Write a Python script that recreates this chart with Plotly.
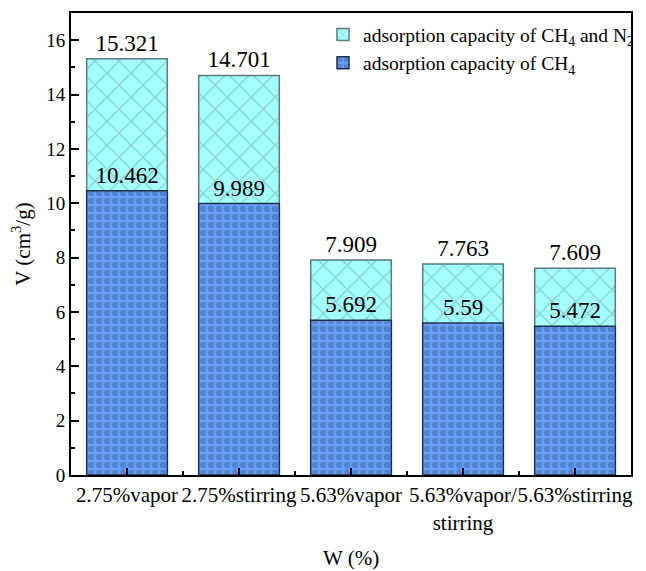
import plotly.graph_objects as go

categories = ["2.75%vapor", "2.75%stirring", "5.63%vapor", "5.63%vapor/<br>stirring", "5.63%stirring"]
total_values = [15.321, 14.701, 7.909, 7.763, 7.609]
ch4_values = [10.462, 9.989, 5.692, 5.59, 5.472]
total_labels = ["15.321", "14.701", "7.909", "7.763", "7.609"]
ch4_labels = ["10.462", "9.989", "5.692", "5.59", "5.472"]

xpos = list(range(len(categories)))
FONT = "Liberation Serif"

fig = go.Figure()
fig.add_trace(go.Bar(
    x=xpos, y=total_values, width=0.72,
    name="adsorption capacity of CH<sub>4</sub> and N<sub>2</sub>",
    marker=dict(color="#A4FFFF", line=dict(color="#5E7A7A", width=1.5),
                pattern=dict(shape="x", fgcolor="#6E9C9C", size=17, solidity=0.14, bgcolor="#A4FFFF")),
    text=total_labels, textposition="outside", cliponaxis=False,
    textfont=dict(family=FONT, size=23, color="black"),
))
fig.add_trace(go.Bar(
    x=xpos, y=ch4_values, width=0.72,
    name="adsorption capacity of CH<sub>4</sub>",
    marker=dict(color="#68A0FA", line=dict(color="#22304F", width=1.5),
                pattern=dict(shape=".", fgcolor="#42669F", size=8, solidity=0.5, bgcolor="#68A0FA")),
    text=ch4_labels, textposition="outside", cliponaxis=False,
    textfont=dict(family=FONT, size=23, color="black"),
))

fig.update_layout(
    width=646, height=571,
    barmode="overlay",
    plot_bgcolor="white", paper_bgcolor="white",
    margin=dict(l=71, r=6, t=13, b=96),
    font=dict(family=FONT, size=18, color="black"),
    showlegend=True,
    legend=dict(x=0.45, y=0.995, xanchor="left", yanchor="top",
                bgcolor="rgba(0,0,0,0)", font=dict(family=FONT, size=19.5),
                traceorder="normal", itemwidth=30, tracegroupgap=0),
    annotations=[dict(text="W (%)", xref="paper", yref="paper", x=0.5, y=-0.18,
                      xanchor="center", yanchor="middle", showarrow=False,
                      font=dict(family=FONT, size=21))],
)
fig.update_xaxes(
    range=[-0.5, 4.5], tickmode="array", tickvals=xpos, ticktext=categories,
    tickangle=0, automargin=False,
    showline=True, linecolor="black", linewidth=2, mirror=True,
    ticks="inside", ticklen=7, tickwidth=1.5, tickcolor="black",
    minor=dict(tickmode="array", tickvals=[0.5, 1.5, 2.5, 3.5], ticks="inside", ticklen=4, tickcolor="black"),
    showgrid=False, zeroline=False,
    tickfont=dict(family=FONT, size=21),
)
fig.update_yaxes(
    range=[0, 17], tickmode="linear", tick0=0, dtick=2, automargin=False,
    showline=True, linecolor="black", linewidth=2, mirror=True,
    ticks="inside", ticklen=8, tickwidth=1.5, tickcolor="black",
    minor=dict(dtick=1, ticks="inside", ticklen=4, tickcolor="black"),
    showgrid=False, zeroline=False,
    tickfont=dict(family=FONT, size=19),
    title=dict(text="V (cm<sup>3</sup>/g)", font=dict(family=FONT, size=21), standoff=10),
)

fig.write_html("out.html")
